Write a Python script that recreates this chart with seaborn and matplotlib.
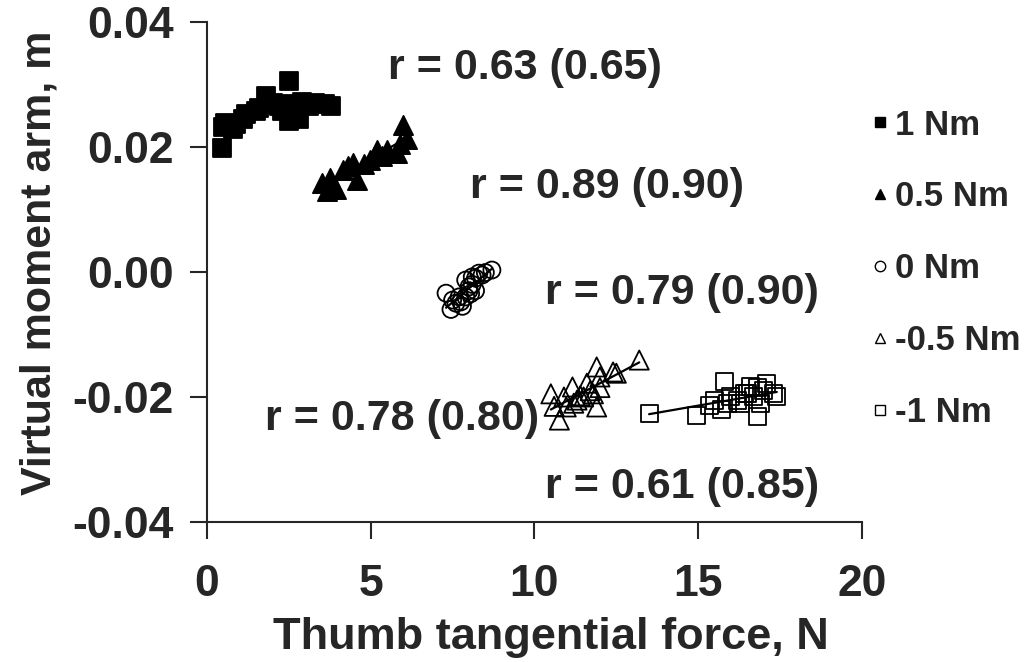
import numpy as np
import pandas as pd
import seaborn as sns
import matplotlib.pyplot as plt
from matplotlib.lines import Line2D

# ---- data ----
labels = ["1 Nm", "0.5 Nm", "0 Nm", "-0.5 Nm", "-1 Nm"]

x_1 = [0.45, 0.5, 0.55, 0.8, 0.9, 1.1, 1.2, 1.5, 1.6, 1.8, 2.0, 2.2, 2.3, 2.5, 2.5, 2.6, 2.8, 2.9, 3.1, 3.3, 3.6, 3.8]
y_1 = [0.0198, 0.0232, 0.0238, 0.0228, 0.0236, 0.0245, 0.0252, 0.0258, 0.0262, 0.0282, 0.0270, 0.0265, 0.0258,
       0.0305, 0.0242, 0.0268, 0.0245, 0.0272, 0.0265, 0.0270, 0.0268, 0.0265]

x_05 = [3.5, 3.65, 3.75, 3.95, 4.15, 4.3, 4.45, 4.57, 4.8, 4.97, 5.18, 5.35, 5.5, 5.8, 5.9, 6.0, 6.1]
y_05 = [0.0142, 0.0130, 0.0150, 0.0132, 0.0163, 0.0170, 0.0174, 0.0147, 0.0172, 0.0179, 0.0195, 0.0185, 0.0195,
        0.0190, 0.0205, 0.0235, 0.0212]

x_0 = [7.3, 7.45, 7.5, 7.6, 7.7, 7.8, 7.9, 7.9, 8.0, 8.0, 8.1, 8.1, 8.2, 8.2, 8.3, 8.4, 8.5, 8.7, 7.75, 8.05]
y_0 = [-0.0034, -0.0060, -0.0045, -0.0050, -0.0040, -0.0055, -0.0040, -0.0013, -0.0024, -0.0030, -0.0008,
       -0.0020, -0.0030, -0.0010, -0.0002, -0.0005, -0.0001, 0.0003, -0.0048, -0.0035]

x_m05 = [10.5, 10.6, 10.76, 10.9, 10.97, 11.16, 11.3, 11.4, 11.5, 11.6, 11.7, 11.9, 11.9, 12.0, 12.0, 12.4, 12.5,
         13.2, 11.2, 11.8]
y_m05 = [-0.0195, -0.0215, -0.0237, -0.0200, -0.0216, -0.0184, -0.0205, -0.0198, -0.0200, -0.0178, -0.0190,
         -0.0152, -0.0216, -0.0168, -0.0185, -0.0160, -0.0162, -0.0141, -0.0210, -0.0195]

x_m1 = [13.5, 14.95, 15.35, 15.5, 15.7, 15.8, 15.9, 16.0, 16.2, 16.4, 16.5, 16.6, 16.7, 16.8, 16.9, 17.0, 17.1,
        17.3, 17.4, 16.3, 16.8]
y_m1 = [-0.0226, -0.0229, -0.0213, -0.0205, -0.0220, -0.0176, -0.0210, -0.0200, -0.0205, -0.0195, -0.0194,
        -0.0184, -0.0200, -0.0232, -0.0210, -0.0190, -0.0178, -0.0195, -0.0200, -0.0210, -0.0185]

r_texts = ["r = 0.63 (0.65)", "r = 0.89 (0.90)", "r = 0.79 (0.90)", "r = 0.78 (0.80)", "r = 0.61 (0.85)"]
r_pos = [(5.53, 0.0326), (8.03, 0.0136), (10.32, -0.0034), (1.77, -0.0235), (10.32, -0.0344)]

xticks = [0, 5, 10, 15, 20]
yticks = [-0.04, -0.02, 0.0, 0.02, 0.04]
ytick_labels = ["-0.04", "-0.02", "0.00", "0.02", "0.04"]

# ---- styling ----
sns.set_style("ticks")
plt.rcParams["font.family"] = ["Liberation Sans", "DejaVu Sans"]
plt.rcParams["font.weight"] = "bold"

series = [
    (x_1, y_1, "s", "black", 170),
    (x_05, y_05, "^", "black", 190),
    (x_0, y_0, "o", "none", 150),
    (x_m05, y_m05, "^", "none", 190),
    (x_m1, y_m1, "s", "none", 150),
]

fig, ax = plt.subplots(figsize=(10.31, 6.62), dpi=100)
fig.subplots_adjust(left=0.2008, right=0.836, top=0.967, bottom=0.2115)

for xs, ys, mk, fc, sz in series:
    df = pd.DataFrame({"x": xs, "y": ys})
    sns.regplot(data=df, x="x", y="y", ax=ax, scatter=False, ci=None, truncate=True,
                line_kws={"color": "black", "lw": 1.6})
    sns.scatterplot(data=df, x="x", y="y", ax=ax, marker=mk, s=sz, facecolor=fc,
                    edgecolor="black", linewidth=1.3, zorder=3)

for txt, (tx, ty) in zip(r_texts, r_pos):
    ax.text(tx, ty, txt, fontsize=31, fontweight="bold", ha="left", va="center")

ax.set_xlim(0, 20)
ax.set_ylim(-0.04, 0.04)
ax.set_xticks(xticks)
ax.set_yticks(yticks)
ax.set_yticklabels(ytick_labels)
ax.tick_params(axis="both", labelsize=32, length=12, width=1.5, direction="out")
ax.tick_params(axis="y", pad=12)
ax.tick_params(axis="x", pad=18)
for side in ["left", "bottom"]:
    ax.spines[side].set_linewidth(1.5)
sns.despine(ax=ax)

ax.set_xlabel("Thumb tangential force, N", fontsize=32.5, fontweight="bold")
ax.set_ylabel("Virtual moment arm, m", fontsize=31, fontweight="bold")
ax.xaxis.set_label_coords(0.525, -0.19)
ax.yaxis.set_label_coords(-0.226, 0.518)

handles = []
for (xs, ys, mk, fc, sz), lab in zip(series, labels):
    handles.append(Line2D([], [], marker=mk, linestyle="none", markerfacecolor=fc,
                          markeredgecolor="black", markeredgewidth=1.0, markersize=7.5, label=lab))
leg = fig.legend(handles=handles, loc="upper left", bbox_to_anchor=(0.8467, 0.836), frameon=False,
                 fontsize=25, labelspacing=1.12, handlelength=0.4, handletextpad=0.23,
                 borderaxespad=0, borderpad=0)
for t in leg.get_texts():
    t.set_fontweight("bold")

fig.savefig("out.png", dpi=100)
